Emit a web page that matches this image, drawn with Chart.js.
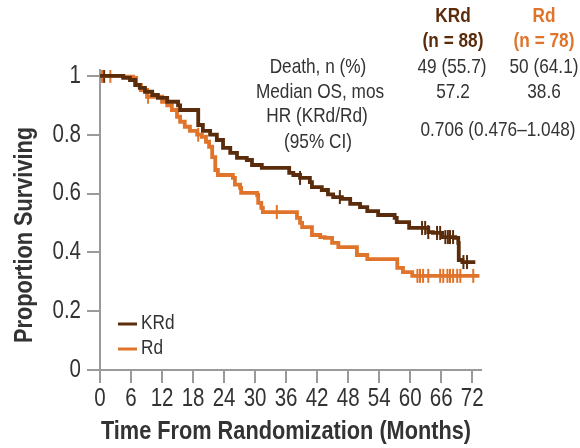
<!DOCTYPE html>
<html><head><meta charset="utf-8">
<script src="https://cdn.jsdelivr.net/npm/chart.js@4.4.0/dist/chart.umd.min.js"></script>
<style>html,body{margin:0;padding:0;background:#fff}#wrap{width:580px;height:448px;position:relative}</style>
</head><body><div id="wrap"><canvas id="c" width="580" height="448"></canvas></div>
<script>
// ---- data ----
const xTickValues = [0, 6, 12, 18, 24, 30, 36, 42, 48, 54, 60, 66, 72];
const yTickValues = [0, 0.2, 0.4, 0.6, 0.8, 1];

const seriesNames = ['KRd', 'Rd'];

// KRd Kaplan-Meier steps (time in months, survival after step)
const krdTimes = [0, 4.5, 5.8, 6.8, 7.7, 8.7, 10.1, 11.2, 13.0, 15.1, 15.5, 19.0, 19.9, 21.3, 22.6, 23.8, 25.2, 26.5, 28.4, 29.4, 31.3, 36.6, 37.4, 38.7, 40.6, 41.0, 42.9, 44.1, 45.1, 46.8, 48.4, 50.3, 51.7, 53.8, 57.0, 57.4, 59.8, 63.5, 64.4, 66.2, 68.7, 69.3, 69.4, 70.1, 72.6];
const krdSurv  = [1.0, 0.993, 0.986, 0.969, 0.959, 0.946, 0.935, 0.925, 0.912, 0.900, 0.884, 0.833, 0.813, 0.800, 0.782, 0.755, 0.738, 0.721, 0.714, 0.697, 0.687, 0.670, 0.663, 0.653, 0.639, 0.622, 0.612, 0.597, 0.588, 0.582, 0.565, 0.554, 0.540, 0.527, 0.517, 0.503, 0.483, 0.469, 0.466, 0.452, 0.449, 0.432, 0.374, 0.367, 0.367];
const krdCensored = [0.8, 38.7, 46.4, 62.3, 62.9, 63.5, 65.2, 65.8, 66.8, 67.3, 67.7, 68.3, 70.3, 71.0];

// Rd Kaplan-Meier steps
const rdTimes = [0, 4.5, 6.4, 7.0, 7.9, 9.1, 12.0, 13.0, 13.9, 14.9, 15.5, 16.4, 17.4, 18.8, 19.7, 20.5, 21.1, 21.7, 22.3, 22.8, 25.7, 26.1, 27.1, 27.3, 30.4, 30.6, 31.2, 31.5, 38.1, 38.7, 39.1, 41.0, 42.6, 43.5, 44.9, 46.1, 49.7, 51.7, 57.5, 58.6, 60.4, 73.4];
const rdSurv  = [1.0, 0.997, 0.993, 0.969, 0.952, 0.929, 0.912, 0.900, 0.884, 0.861, 0.844, 0.827, 0.813, 0.800, 0.793, 0.776, 0.759, 0.724, 0.680, 0.663, 0.653, 0.630, 0.619, 0.602, 0.595, 0.568, 0.551, 0.537, 0.517, 0.500, 0.486, 0.459, 0.452, 0.449, 0.432, 0.418, 0.391, 0.377, 0.347, 0.333, 0.320, 0.320];
const rdCensored = [0.4, 2.0, 9.3, 19.0, 34.2, 61.4, 61.9, 62.5, 63.5, 65.8, 66.4, 67.2, 67.7, 68.3, 69.1, 69.7, 72.2];

const tableHeader = ['KRd', '(n = 88)', 'Rd', '(n = 78)'];
const tableRowLabels = ['Death, n (%)', 'Median OS, mos', 'HR (KRd/Rd)', '(95% CI)'];
const tableKRd = ['49 (55.7)', '57.2'];
const tableRd = ['50 (64.1)', '38.6'];
const tableHR = '0.706 (0.476\u20131.048)';

const xTitle = 'Time From Randomization (Months)';
const yTitle = 'Proportion Surviving';

// ---- styling ----
const BROWN = '#5b2c0c';
const ORANGE = '#e0742a';
const TEXT = '#333333';
const AXIS = '#9a9a9a';
const FAM = "'Liberation Sans', Arial, sans-serif";
const NARROW = 0.82; // horizontal condensing to mimic a narrow typeface

const canvas = document.getElementById('c');
const ctx2d = canvas.getContext('2d');
const origFill = ctx2d.fillText.bind(ctx2d);
const origMeasure = ctx2d.measureText.bind(ctx2d);
ctx2d.fillText = function (text, x, y, maxWidth) {
  ctx2d.save();
  ctx2d.translate(x, y);
  ctx2d.scale(NARROW, 1);
  if (maxWidth !== undefined) origFill(text, 0, 0, maxWidth / NARROW); else origFill(text, 0, 0);
  ctx2d.restore();
};
ctx2d.measureText = function (text) {
  const m = origMeasure(text);
  return {
    width: m.width * NARROW,
    actualBoundingBoxAscent: m.actualBoundingBoxAscent,
    actualBoundingBoxDescent: m.actualBoundingBoxDescent,
    actualBoundingBoxLeft: m.actualBoundingBoxLeft * NARROW,
    actualBoundingBoxRight: m.actualBoundingBoxRight * NARROW
  };
};

function stepValue(times, surv, t) {
  let v = surv[0];
  for (let i = 0; i < times.length; i++) { if (times[i] <= t) v = surv[i]; else break; }
  return v;
}
const toXY = (ts, ss) => ts.map((t, i) => ({x: t, y: ss[i]}));
const censorXY = (cs, ts, ss) => cs.map(t => ({x: t, y: stepValue(ts, ss, t)}));

const overlay = {
  id: 'overlay',
  afterDraw(chart) {
    const ctx = chart.ctx;
    ctx.save();
    ctx.textBaseline = 'middle';
    ctx.textAlign = 'center';
    // header
    ctx.font = 'bold 21px ' + FAM;
    ctx.fillStyle = BROWN;
    ctx.fillText(tableHeader[0], 453, 16);
    ctx.fillText(tableHeader[1], 453, 41);
    ctx.fillStyle = ORANGE;
    ctx.fillText(tableHeader[2], 544, 16);
    ctx.fillText(tableHeader[3], 544, 41);
    // rows
    ctx.font = '21px ' + FAM;
    ctx.fillStyle = TEXT;
    ctx.fillText(tableRowLabels[0], 318, 67);
    ctx.fillText(tableRowLabels[1], 320, 92);
    ctx.fillText(tableRowLabels[2], 317, 116);
    ctx.fillText(tableRowLabels[3], 318, 142);
    ctx.fillText(tableKRd[0], 452, 67);
    ctx.fillText(tableKRd[1], 453, 92);
    ctx.fillText(tableRd[0], 544, 67);
    ctx.fillText(tableRd[1], 544, 92);
    ctx.fillText(tableHR, 498, 130);
    // legend
    ctx.lineWidth = 3;
    ctx.strokeStyle = BROWN;
    ctx.beginPath(); ctx.moveTo(118, 324); ctx.lineTo(137, 324); ctx.stroke();
    ctx.strokeStyle = ORANGE;
    ctx.beginPath(); ctx.moveTo(118, 349); ctx.lineTo(137, 349); ctx.stroke();
    ctx.textAlign = 'left';
    ctx.font = '21px ' + FAM;
    ctx.fillStyle = TEXT;
    ctx.fillText(seriesNames[0], 141, 323);
    ctx.fillText(seriesNames[1], 141, 348);
    // axis titles
    ctx.textAlign = 'center';
    ctx.font = 'bold 26.5px ' + FAM;
    ctx.fillStyle = TEXT;
    ctx.fillText(xTitle, 286, 432);
    ctx.translate(25, 235);
    ctx.rotate(-Math.PI / 2);
    ctx.fillText(yTitle, 0, 0);
    ctx.restore();
  }
};

new Chart(canvas, {
  type: 'line',
  data: {
    datasets: [
      {label: 'KRd', data: toXY(krdTimes, krdSurv), stepped: true, borderColor: BROWN, borderWidth: 3.8, pointRadius: 0, fill: false},
      {label: 'Rd', data: toXY(rdTimes, rdSurv), stepped: true, borderColor: ORANGE, borderWidth: 3.8, pointRadius: 0, fill: false},
      {label: 'KRd censored', data: censorXY(krdCensored, krdTimes, krdSurv), showLine: false, pointStyle: 'line', rotation: 90, pointRadius: 7, pointBorderWidth: 2, borderColor: BROWN, pointBorderColor: BROWN},
      {label: 'Rd censored', data: censorXY(rdCensored, rdTimes, rdSurv), showLine: false, pointStyle: 'line', rotation: 90, pointRadius: 7, pointBorderWidth: 2, borderColor: ORANGE, pointBorderColor: ORANGE}
    ]
  },
  options: {
    responsive: false,
    animation: false,
    devicePixelRatio: 1,
    layout: {padding: {left: 0, top: 70, right: 99, bottom: 0}},
    plugins: {legend: {display: false}, tooltip: {enabled: false}},
    scales: {
      x: {
        type: 'linear', min: 0, max: 73.7,
        afterBuildTicks: s => { s.ticks = xTickValues.map(v => ({value: v})); },
        afterFit: s => { s.height = 78; },
        ticks: {font: {family: FAM, size: 25}, color: TEXT, padding: 1, maxRotation: 0, autoSkip: false},
        grid: {drawOnChartArea: false, drawTicks: true, tickLength: 13, color: AXIS, lineWidth: 2},
        border: {color: AXIS, width: 2}
      },
      y: {
        type: 'linear', min: 0, max: 1.02,
        afterBuildTicks: s => { s.ticks = yTickValues.map(v => ({value: v})); },
        afterFit: s => { s.width = 100; },
        ticks: {font: {family: FAM, size: 25}, color: TEXT, padding: 6, callback: v => String(v)},
        grid: {drawOnChartArea: false, drawTicks: true, tickLength: 13, color: AXIS, lineWidth: 2},
        border: {color: AXIS, width: 2}
      }
    }
  },
  plugins: [overlay]
});
</script>
</body></html>
